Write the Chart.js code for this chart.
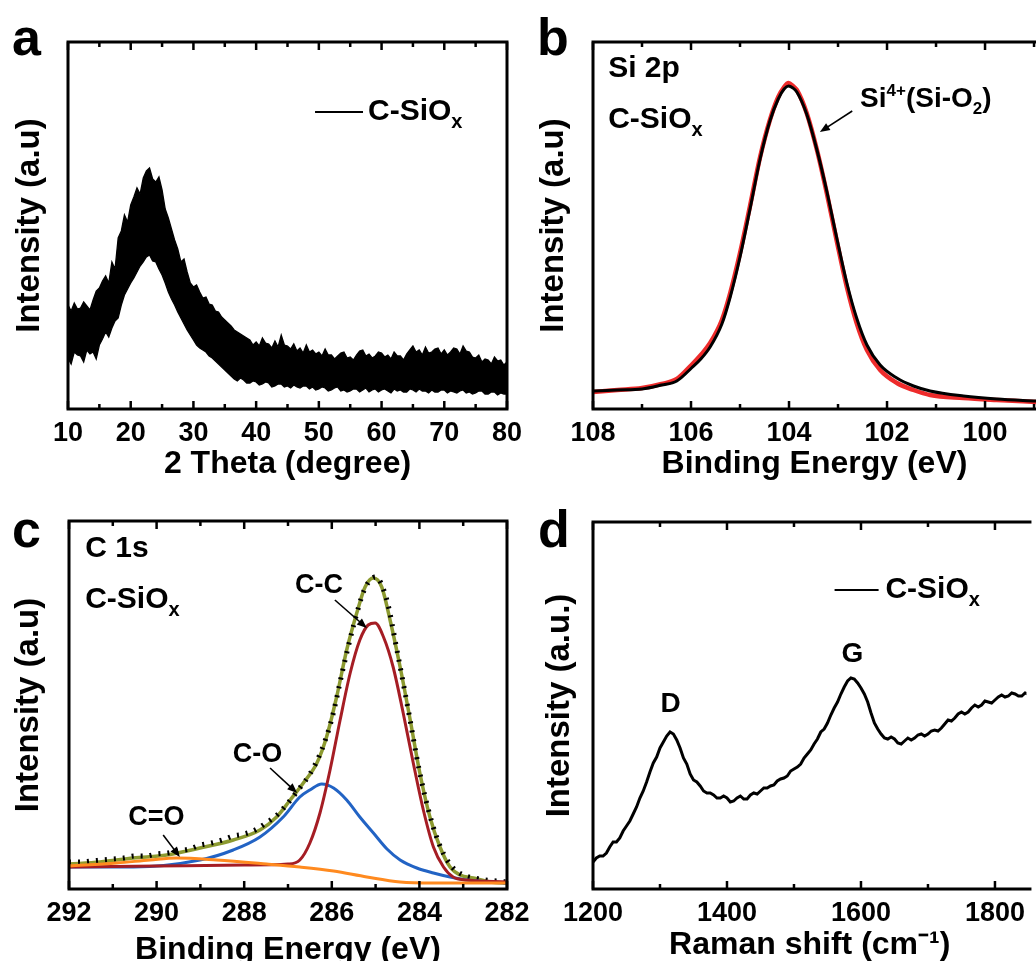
<!DOCTYPE html>
<html><head><meta charset="utf-8">
<script src="https://cdn.jsdelivr.net/npm/chart.js@4.4.1/dist/chart.umd.min.js"></script>
<style>
html,body{margin:0;padding:0;background:#fff;overflow:hidden;width:1036px;height:961px;}
canvas{position:absolute;}
</style></head><body>
<canvas id="ca" width="545" height="480" style="left:0;top:0;width:545px;height:480px"></canvas>
<canvas id="cb" width="506" height="480" style="left:530px;top:0;width:506px;height:480px"></canvas>
<canvas id="cc" width="545" height="481" style="left:0;top:480px;width:545px;height:481px"></canvas>
<canvas id="cd" width="506" height="481" style="left:530px;top:480px;width:506px;height:481px"></canvas>
<script>
// ---------- data ----------
// (a) XRD, 2theta (deg); noisy band: upper and lower envelope of the trace
const xrdTheta = [10,10.5,11,11.5,12,12.5,13,13.5,14,14.5,15,15.5,16,16.5,17,17.5,18,18.5,19,19.5,20,20.5,21,21.5,22,22.5,23,23.5,24,24.5,25,25.5,26,26.5,27,27.5,28,28.5,29,29.5,30,30.5,31,31.5,32,32.5,33,33.5,34,34.5,35,35.5,36,36.5,37,37.5,38,38.5,39,39.5,40,40.5,41,41.5,42,42.5,43,43.5,44,44.5,45,45.5,46,46.5,47,47.5,48,48.5,49,49.5,50,50.5,51,51.5,52,52.5,53,53.5,54,54.5,55,55.5,56,56.5,57,57.5,58,58.5,59,59.5,60,60.5,61,61.5,62,62.5,63,63.5,64,64.5,65,65.5,66,66.5,67,67.5,68,68.5,69,69.5,70,70.5,71,71.5,72,72.5,73,73.5,74,74.5,75,75.5,76,76.5,77,77.5,78,78.5,79,79.5,80];
const xrdUpper = [104,98,106,100,101,107,103,99,109,118,121,128,133,126,147,140,171,178,194,187,204,212,221,215,231,238,241,230,227,232,219,200,191,180,169,160,147,150,137,126,122,124,117,111,112,105,104,98,97,92,89,86,83,79,77,75,73,71,69,64,67,63,71,66,65,61,68,62,74,64,63,60,65,58,61,56,64,57,59,55,57,53,60,54,54,50,53,56,57,51,52,49,54,58,59,53,55,51,53,57,56,52,54,50,57,53,53,49,55,59,63,57,59,54,62,56,57,60,61,55,59,54,57,61,60,55,63,58,57,52,51,54,47,50,49,45,52,48,49,44,47];
const xrdLower = [51,45,57,54,53,47,59,55,57,50,64,70,77,72,81,88,91,104,114,120,126,131,137,143,147,152,154,148,147,140,134,126,117,110,104,97,91,85,79,74,69,64,61,59,57,53,51,48,45,42,39,36,33,30,28,31,29,26,26,28,27,24,25,27,26,22,23,25,25,22,23,21,24,22,21,23,23,20,22,19,20,22,21,18,19,21,22,18,19,17,18,20,20,17,19,21,17,19,20,17,19,20,18,16,20,18,19,17,17,20,19,17,20,18,18,16,19,17,17,19,19,16,18,17,16,18,19,16,17,15,16,18,18,15,15,17,17,14,16,15,15];
const xrdMajor = [10,20,30,40,50,60,70,80];
const xrdMinor = [15,25,35,45,55,65,75];

// (b) Si 2p XPS
const si2pEnergy = [108,107.5,107,106.6,106.29,105.99,105.8,105.61,105.37,105.2,105.0,104.8,104.59,104.39,104.22,104.1,104.01,103.92,103.84,103.64,103.43,103.23,103.03,102.82,102.62,102.41,102.14,101.8,101.46,101.12,100.44,99.76,98.96];
const si2pData = [18,19,20,24,28,41,50,62,85,112,152,199,250,288,310,320,323,321,317,295,259,218,172,126,91,64,44,31,23,18,13,10,8];
const si2pFit  = [17,19,21,25,30,44,54,66,89,116,156,202,252,289,312,322,326,323,319,296,259,216,169,122,86,59,39,26,19,14,11,9,7];
const si2pMajor = [108,106,104,102,100];
const si2pMinor = [107,105,103,101,99];

// (c) C 1s XPS
const c1sDataE = [292,291.75,291.5,291.25,291,290.75,290.5,290.25,290,289.75,289.5,289.25,289,288.75,288.5,288.25,288,287.75,287.5,287.25,287,286.75,286.5,286.25,286,285.75,285.5,285.25,285,284.75,284.5,284.25,284,283.75,283.5,283.25,283,282.75,282.5,282.25,282];
const c1sData = [27,27,28,29,30,31,33,33,35,36,38,40,44,46,49,53,55,59,66,74,86,100,115,137,170,219,264,300,312,290,236,178,118,72,40,22,14,11,9,8,7];
const c1sEnvE = [292,291.29,290.53,289.77,289.01,288.25,287.64,287.26,286.95,286.65,286.34,286.12,285.89,285.66,285.43,285.24,285.05,284.86,284.67,284.44,284.21,283.99,283.76,283.53,283.3,283.07,282.77,282.39,282.01];
const c1sEnv = [25,27,31,34,41,49,59,72,89,106,126,152,192,239,276,302,311,302,269,222,169,116,72,42,22,14,11,7,6];
const c1sCCE = [292,290,288,287,286.73,286.5,286.27,286.04,285.81,285.58,285.36,285.17,285.01,284.82,284.6,284.37,284.14,283.91,283.68,283.45,283.23,282.92,282];
const c1sCC = [22,23,24,25,29,46,76,119,169,216,249,264,266,252,222,176,126,79,42,22,12,9,7];
const c1sCOE = [292,290.53,289.01,288.25,287.64,287.11,286.73,286.5,286.23,285.96,285.66,285.36,285.05,284.74,284.44,284.06,283.68,283.3,282.92,282.01];
const c1sCO = [22,22,29,39,52,72,92,99,105,101,89,72,56,40,29,21,16,12,9,6];
const c1sCdOE = [292,290.91,290.15,289.54,288.63,287.49,286.73,285.96,285.2,284.44,283.68,282.01];
const c1sCdO = [23,26,29,31,29,25,22,18,12,7,6,6];
const c1sMajor = [292,290,288,286,284,282];
const c1sMinor = [291,289,287,285,283];

// (d) Raman
const ramanShift = [1200,1205,1210,1215,1220,1225,1230,1235,1240,1245,1250,1255,1260,1265,1270,1275,1280,1285,1290,1295,1300,1305,1310,1315,1320,1325,1330,1335,1340,1345,1350,1355,1360,1365,1370,1375,1380,1385,1390,1395,1400,1405,1410,1415,1420,1425,1430,1435,1440,1445,1450,1455,1460,1465,1470,1475,1480,1485,1490,1495,1500,1505,1510,1515,1520,1525,1530,1535,1540,1545,1550,1555,1560,1565,1570,1575,1580,1585,1590,1595,1600,1605,1610,1615,1620,1625,1630,1635,1640,1645,1650,1655,1660,1665,1670,1675,1680,1685,1690,1695,1700,1705,1710,1715,1720,1725,1730,1735,1740,1745,1750,1755,1760,1765,1770,1775,1780,1785,1790,1795,1800,1805,1810,1815,1820,1825,1830,1835,1840,1845,1850];
const ramanIntensity = [27,31,33,33,36,42,47,47,51,58,63,68,75,82,91,98,107,117,126,132,141,147,153,157,155,149,141,131,125,115,109,107,103,98,96,96,94,91,91,93,91,87,88,91,93,90,90,94,96,95,98,101,101,103,104,108,110,111,113,118,120,122,125,131,135,139,145,150,157,160,166,174,181,187,195,202,208,211,210,206,201,195,187,176,166,160,155,151,150,152,150,146,145,148,151,149,151,154,155,153,155,158,159,158,161,165,169,168,171,175,177,175,177,181,184,182,184,188,187,186,189,192,194,192,193,196,195,193,193,196,195];
const ramanMajor = [1200,1400,1600,1800];
const ramanMinor = [1300,1500,1700];

// ---------- rendering ----------
const FONT = '"Liberation Sans", Arial, Helvetica, sans-serif';
const xy = (xs, ys) => xs.map((x, i) => ({x: x, y: ys[i]}));

function rich(ctx, x, y, parts) {
  let cx = x;
  ctx.textBaseline = 'alphabetic';
  ctx.textAlign = 'left';
  for (const p of parts) {
    ctx.font = 'bold ' + p.size + 'px ' + FONT;
    ctx.fillText(p.t, cx, y + (p.dy || 0));
    cx += ctx.measureText(p.t).width;
  }
}

const deco = {
  id: 'deco',
  afterDraw(chart, args, o) {
    const {ctx, chartArea: a, scales} = chart;
    const xs = scales.x, ys = scales.y;
    const X = v => xs.getPixelForValue(v), Y = v => ys.getPixelForValue(v);
    ctx.save();
    ctx.strokeStyle = '#000'; ctx.fillStyle = '#000';
    ctx.lineCap = 'butt';
    ctx.lineWidth = 2.5;
    const tk = (vals, len) => vals.forEach(v => {
      const px = X(v);
      ctx.beginPath();
      ctx.moveTo(px, a.bottom); ctx.lineTo(px, a.bottom - len);
      ctx.moveTo(px, a.top); ctx.lineTo(px, a.top + len);
      ctx.stroke();
    });
    tk(o.major, 8); tk(o.minor, 5);
    ctx.lineWidth = 3;
    if (o.rightBorder) {
      ctx.strokeRect(a.left, a.top, a.right - a.left, a.bottom - a.top);
    } else {
      ctx.beginPath();
      ctx.moveTo(a.right + 5, a.top); ctx.lineTo(a.left, a.top);
      ctx.lineTo(a.left, a.bottom); ctx.lineTo(a.right + 5, a.bottom);
      ctx.stroke();
    }
    ctx.lineWidth = 2;
    (o.lines || []).forEach(l => {
      ctx.beginPath(); ctx.moveTo(X(l.x1), Y(l.y)); ctx.lineTo(X(l.x2), Y(l.y)); ctx.stroke();
    });
    (o.arrows || []).forEach(r => {
      const x1 = X(r.x1), y1 = Y(r.y1), x2 = X(r.x2), y2 = Y(r.y2);
      const ang = Math.atan2(y2 - y1, x2 - x1), L = 10, W = 4;
      ctx.lineWidth = 1.6;
      ctx.beginPath(); ctx.moveTo(x1, y1);
      ctx.lineTo(x2 - L * 0.8 * Math.cos(ang), y2 - L * 0.8 * Math.sin(ang)); ctx.stroke();
      ctx.beginPath();
      ctx.moveTo(x2, y2);
      ctx.lineTo(x2 - L * Math.cos(ang) + W * Math.sin(ang), y2 - L * Math.sin(ang) - W * Math.cos(ang));
      ctx.lineTo(x2 - L * Math.cos(ang) - W * Math.sin(ang), y2 - L * Math.sin(ang) + W * Math.cos(ang));
      ctx.closePath(); ctx.fill();
    });
    (o.texts || []).forEach(t => rich(ctx, X(t.x), Y(t.y), t.parts));
    rich(ctx, o.letter.x, o.letter.y, [{t: o.letter.t, size: 52}]);
    ctx.restore();
  }
};

function makeChart(id, o) {
  return new Chart(document.getElementById(id), {
    type: 'line',
    data: {datasets: o.datasets},
    options: {
      responsive: false, animation: false, events: [],
      layout: {autoPadding: false, padding: {top: o.padTop, right: o.padRight, left: 0, bottom: 0}},
      plugins: {legend: {display: false}, tooltip: {enabled: false}, deco: o.deco},
      elements: {point: {radius: 0}, line: {tension: 0}},
      scales: {
        x: {
          type: 'linear', min: o.xmin, max: o.xmax, reverse: !!o.reverse,
          afterFit: s => { s.height = o.xh; },
          afterBuildTicks: s => { s.ticks = o.major.map(v => ({value: v})); },
          grid: {display: false, drawTicks: false}, border: {display: false},
          ticks: {color: '#000', font: {family: FONT, size: 27, weight: 'bold', lineHeight: 1},
                  padding: 11, maxRotation: 0, autoSkip: false, callback: v => String(v)},
          title: {display: true, text: o.xtitle, color: '#000',
                  font: {family: FONT, size: 32, weight: 'bold', lineHeight: o.xtLH},
                  padding: {top: 0, bottom: 0}}
        },
        y: {
          type: 'linear', min: 0, max: o.ymax,
          afterFit: s => { s.width = o.yw; },
          grid: {display: false, drawTicks: false}, border: {display: false},
          ticks: {display: false},
          title: {display: true, text: o.ytitle, color: '#000',
                  font: {family: FONT, size: 33, weight: 'bold', lineHeight: 1},
                  padding: {top: o.ytPad, bottom: 0}}
        }
      }
    },
    plugins: [deco]
  });
}

const lbl = () => [{t: 'C-SiO', size: 30}, {t: 'x', size: 20, dy: 8}];

// (a)
makeChart('ca', {
  padTop: 42, padRight: 38, xh: 71, yw: 68, ymax: 367, xtLH: 1, ytPad: 13,
  xmin: 10, xmax: 80, major: xrdMajor,
  xtitle: '2 Theta (degree)', ytitle: 'Intensity (a.u)',
  datasets: [
    {data: xy(xrdTheta, xrdUpper), borderColor: '#000', backgroundColor: '#000', borderWidth: 1.3, fill: '+1'},
    {data: xy(xrdTheta, xrdLower), borderColor: '#000', borderWidth: 1.3, fill: false}
  ],
  deco: {major: xrdMajor, minor: xrdMinor, rightBorder: true,
    letter: {t: 'a', x: 12, y: 55},
    lines: [{x1: 49.39, x2: 57.04, y: 297}],
    texts: [{x: 57.84, y: 289, parts: lbl()}]}
});

// (b)
makeChart('cb', {
  padTop: 42, padRight: 0, xh: 71, yw: 63, ymax: 367, xtLH: 1, ytPad: 7,
  xmin: 98.96, xmax: 108, reverse: true, major: si2pMajor,
  xtitle: 'Binding Energy (eV)', ytitle: 'Intensity (a.u)',
  datasets: [
    {data: xy(si2pEnergy, si2pData), borderColor: '#000', borderWidth: 3, fill: false, cubicInterpolationMode: 'monotone'},
    {data: xy(si2pEnergy, si2pFit), borderColor: '#ee2b2b', borderWidth: 4.5, fill: false, cubicInterpolationMode: 'monotone'}
  ],
  deco: {major: si2pMajor, minor: si2pMinor, rightBorder: false,
    letter: {t: 'b', x: 7, y: 55},
    arrows: [{x1: 102.71, y1: 298, x2: 103.37, y2: 277}],
    texts: [
      {x: 107.69, y: 332, parts: [{t: 'Si 2p', size: 30}]},
      {x: 107.69, y: 281, parts: lbl()},
      {x: 102.55, y: 302, parts: [{t: 'Si', size: 28}, {t: '4+', size: 17, dy: -11}, {t: '(Si-O', size: 28}, {t: '2', size: 17, dy: 7}, {t: ')', size: 28}]}
    ]}
});

// (c)
makeChart('cc', {
  padTop: 41, padRight: 38, xh: 72, yw: 69, ymax: 368, xtLH: 0.69, ytPad: 12,
  xmin: 282, xmax: 292, reverse: true, major: c1sMajor,
  xtitle: 'Binding Energy (eV)', ytitle: 'Intensity (a.u)',
  datasets: [
    {data: xy(c1sCdOE, c1sCdO), borderColor: '#ff8a1f', borderWidth: 3, fill: false, cubicInterpolationMode: 'monotone'},
    {data: xy(c1sCCE, c1sCC), borderColor: '#a51d24', borderWidth: 3, fill: false, cubicInterpolationMode: 'monotone'},
    {data: xy(c1sCOE, c1sCO), borderColor: '#2263c4', borderWidth: 3, fill: false, cubicInterpolationMode: 'monotone'},
    {data: xy(c1sDataE, c1sData), borderColor: '#000', borderWidth: 5, borderDash: [2, 7], fill: false, cubicInterpolationMode: 'monotone'},
    {data: xy(c1sEnvE, c1sEnv), borderColor: '#8c9a30', borderWidth: 3.5, fill: false, cubicInterpolationMode: 'monotone'}
  ],
  deco: {major: c1sMajor, minor: c1sMinor, rightBorder: true,
    letter: {t: 'c', x: 12, y: 67},
    arrows: [
      {x1: 285.93, y1: 289, x2: 285.20, y2: 261},
      {x1: 287.41, y1: 121, x2: 286.79, y2: 96},
      {x1: 289.85, y1: 54, x2: 289.47, y2: 32}
    ],
    texts: [
      {x: 291.63, y: 332, parts: [{t: 'C 1s', size: 30}]},
      {x: 291.63, y: 281, parts: lbl()},
      {x: 286.84, y: 296, parts: [{t: 'C-C', size: 27}]},
      {x: 288.26, y: 127, parts: [{t: 'C-O', size: 27}]},
      {x: 290.65, y: 64, parts: [{t: 'C=O', size: 27}]}
    ]}
});

// (d)
makeChart('cd', {
  padTop: 42, padRight: 0, xh: 72, yw: 63, ymax: 367, xtLH: 1, ytPad: 13,
  xmin: 1200, xmax: 1847, major: ramanMajor,
  xtitle: 'Raman shift (cm\u207B\u00B9)', ytitle: 'Intensity (a.u.)',
  datasets: [
    {data: xy(ramanShift, ramanIntensity), borderColor: '#000', borderWidth: 3, fill: false}
  ],
  deco: {major: ramanMajor, minor: ramanMinor, rightBorder: false,
    letter: {t: 'd', x: 8, y: 67},
    lines: [{x1: 1560.6, x2: 1626.3, y: 299}],
    texts: [
      {x: 1636.5, y: 291, parts: lbl()},
      {x: 1300.7, y: 177, parts: [{t: 'D', size: 28}]},
      {x: 1570.8, y: 227, parts: [{t: 'G', size: 28}]}
    ]}
});
</script>
</body></html>
